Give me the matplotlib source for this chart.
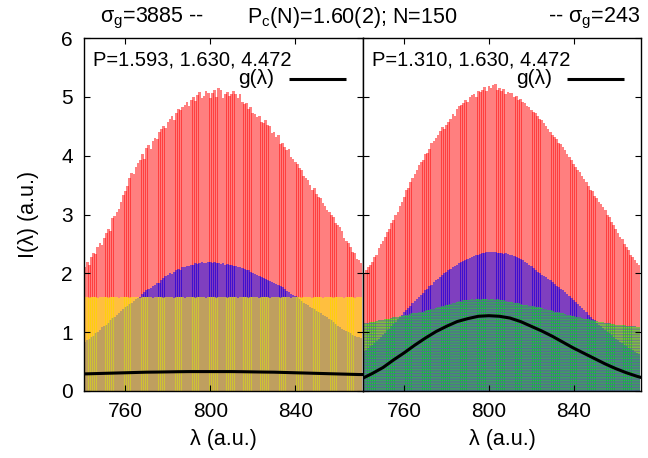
import matplotlib
matplotlib.use("Agg")
import matplotlib.pyplot as plt
import numpy as np

plt.rcParams['font.family'] = ['Liberation Sans', 'DejaVu Sans']
plt.rcParams['mathtext.fontset'] = 'custom'
plt.rcParams['mathtext.rm'] = 'Liberation Sans'
plt.rcParams['mathtext.it'] = 'Liberation Sans:italic'
plt.rcParams['hatch.linewidth'] = 0.9

# wavelength grid (one bar per unit)
lam = list(range(741, 872))

red_left = [2.11, 2.20, 2.15, 2.28, 2.35, 2.33, 2.45, 2.52, 2.49, 2.60,
            2.69, 2.75, 2.72, 2.94, 2.98, 3.05, 3.10, 3.22, 3.33, 3.40,
            3.48, 3.62, 3.70, 3.69, 3.80, 3.88, 3.92, 4.02, 3.95, 4.13,
            4.18, 4.12, 4.25, 4.30, 4.28, 4.41, 4.45, 4.50, 4.47, 4.58,
            4.62, 4.67, 4.60, 4.72, 4.80, 4.77, 4.83, 4.86, 4.92, 4.85,
            4.95, 5.00, 4.93, 5.03, 5.08, 4.98, 5.02, 5.10, 5.06, 4.98,
            5.06, 5.12, 5.00, 5.15, 5.12, 4.98, 5.05, 5.08, 5.02, 5.04,
            5.10, 5.05, 4.98, 5.05, 4.92, 4.88, 4.90, 4.80, 4.83, 4.72,
            4.70, 4.65, 4.68, 4.58, 4.55, 4.60, 4.52, 4.50, 4.38, 4.40,
            4.32, 4.35, 4.20, 4.22, 4.15, 4.10, 4.12, 3.98, 3.95, 3.90,
            3.85, 3.79, 3.75, 3.65, 3.62, 3.58, 3.50, 3.42, 3.45, 3.35,
            3.30, 3.28, 3.20, 3.15, 3.08, 3.05, 3.00, 2.95, 2.85, 2.83,
            2.79, 2.72, 2.60, 2.55, 2.52, 2.45, 2.37, 2.35, 2.25, 2.22,
            2.18]

blue_left = [0.84, 0.86, 0.89, 0.92, 0.94, 0.98, 1.01, 1.04, 1.08, 1.10,
             1.13, 1.16, 1.20, 1.24, 1.26, 1.30, 1.33, 1.36, 1.40, 1.42,
             1.45, 1.48, 1.50, 1.53, 1.56, 1.58, 1.60, 1.65, 1.68, 1.72,
             1.73, 1.75, 1.78, 1.80, 1.83, 1.83, 1.88, 1.92, 1.95, 1.97,
             2.00, 1.99, 2.03, 2.05, 2.08, 2.06, 2.10, 2.11, 2.13, 2.12,
             2.15, 2.14, 2.17, 2.16, 2.18, 2.20, 2.18, 2.17, 2.20, 2.19,
             2.18, 2.20, 2.17, 2.18, 2.16, 2.17, 2.15, 2.16, 2.14, 2.14,
             2.13, 2.12, 2.10, 2.11, 2.09, 2.08, 2.06, 2.05, 2.02, 2.00,
             1.99, 1.98, 1.96, 1.94, 1.92, 1.90, 1.88, 1.87, 1.85, 1.84,
             1.82, 1.80, 1.78, 1.76, 1.73, 1.70, 1.68, 1.65, 1.63, 1.61,
             1.59, 1.56, 1.53, 1.50, 1.48, 1.46, 1.43, 1.41, 1.39, 1.36,
             1.34, 1.32, 1.30, 1.28, 1.26, 1.23, 1.20, 1.17, 1.14, 1.11,
             1.08, 1.06, 1.04, 1.02, 1.00, 0.98, 0.96, 0.94, 0.92, 0.91,
             0.90]

yellow_left = [1.59, 1.60, 1.58, 1.59, 1.60, 1.59, 1.58, 1.59, 1.60, 1.59,
               1.59, 1.58, 1.60, 1.59, 1.59, 1.60, 1.58, 1.59, 1.59, 1.60,
               1.59, 1.58, 1.59, 1.60, 1.59, 1.59, 1.58, 1.60, 1.59, 1.59,
               1.60, 1.59, 1.58, 1.59, 1.60, 1.59, 1.59, 1.58, 1.60, 1.59,
               1.59, 1.60, 1.58, 1.59, 1.59, 1.60, 1.59, 1.58, 1.59, 1.60,
               1.59, 1.59, 1.58, 1.60, 1.59, 1.59, 1.60, 1.58, 1.59, 1.59,
               1.60, 1.59, 1.58, 1.59, 1.60, 1.59, 1.59, 1.58, 1.60, 1.59,
               1.59, 1.60, 1.58, 1.59, 1.59, 1.60, 1.59, 1.58, 1.59, 1.60,
               1.59, 1.59, 1.58, 1.60, 1.59, 1.59, 1.60, 1.58, 1.59, 1.59,
               1.60, 1.59, 1.58, 1.59, 1.60, 1.59, 1.59, 1.58, 1.60, 1.59,
               1.59, 1.60, 1.58, 1.59, 1.59, 1.60, 1.59, 1.58, 1.59, 1.60,
               1.59, 1.59, 1.58, 1.60, 1.59, 1.59, 1.60, 1.58, 1.59, 1.59,
               1.60, 1.59, 1.58, 1.59, 1.60, 1.59, 1.59, 1.58, 1.60, 1.59,
               1.59]

red_right = [2.00, 2.05, 2.10, 2.15, 2.20, 2.27, 2.32, 2.43, 2.50, 2.55,
             2.62, 2.70, 2.76, 2.85, 2.91, 3.00, 3.05, 3.15, 3.22, 3.30,
             3.42, 3.45, 3.55, 3.62, 3.68, 3.75, 3.84, 3.90, 3.93, 4.02,
             4.05, 4.12, 4.21, 4.25, 4.30, 4.35, 4.42, 4.48, 4.45, 4.52,
             4.58, 4.62, 4.70, 4.68, 4.80, 4.84, 4.86, 4.90, 4.95, 4.92,
             5.00, 5.03, 5.05, 5.00, 5.10, 5.08, 5.12, 5.16, 5.10, 5.18,
             5.15, 5.20, 5.22, 5.12, 5.15, 5.10, 5.14, 5.05, 5.08, 5.06,
             5.06, 5.00, 5.02, 4.95, 4.96, 4.92, 4.89, 4.85, 4.82, 4.78,
             4.75, 4.72, 4.67, 4.62, 4.60, 4.55, 4.50, 4.45, 4.40, 4.35,
             4.32, 4.28, 4.22, 4.20, 4.15, 4.10, 4.02, 3.98, 3.92, 3.85,
             3.80, 3.76, 3.72, 3.65, 3.60, 3.55, 3.48, 3.42, 3.40, 3.32,
             3.28, 3.22, 3.18, 3.12, 3.08, 3.00, 2.95, 2.88, 2.82, 2.75,
             2.68, 2.62, 2.58, 2.50, 2.45, 2.40, 2.31, 2.28, 2.22, 2.18,
             2.14]

blue_right = [0.68, 0.70, 0.73, 0.76, 0.79, 0.82, 0.85, 0.88, 0.92, 0.95,
              0.99, 1.03, 1.06, 1.10, 1.14, 1.18, 1.22, 1.26, 1.30, 1.34,
              1.37, 1.41, 1.45, 1.49, 1.53, 1.57, 1.60, 1.64, 1.67, 1.71,
              1.74, 1.78, 1.81, 1.85, 1.88, 1.91, 1.94, 1.97, 2.00, 2.03,
              2.06, 2.08, 2.11, 2.13, 2.15, 2.17, 2.19, 2.21, 2.23, 2.24,
              2.26, 2.27, 2.29, 2.31, 2.32, 2.33, 2.34, 2.35, 2.36, 2.36,
              2.37, 2.37, 2.36, 2.34, 2.35, 2.34, 2.33, 2.34, 2.33, 2.32,
              2.31, 2.29, 2.28, 2.26, 2.24, 2.22, 2.20, 2.17, 2.15, 2.12,
              2.09, 2.06, 2.03, 2.01, 1.98, 1.95, 1.93, 1.90, 1.88, 1.85,
              1.82, 1.79, 1.77, 1.74, 1.72, 1.68, 1.65, 1.62, 1.58, 1.55,
              1.52, 1.48, 1.45, 1.41, 1.38, 1.34, 1.30, 1.26, 1.23, 1.20,
              1.16, 1.13, 1.10, 1.07, 1.04, 1.01, 0.98, 0.95, 0.92, 0.89,
              0.86, 0.83, 0.81, 0.78, 0.76, 0.73, 0.71, 0.69, 0.67, 0.65,
              0.63]

green_right = [1.15, 1.16, 1.16, 1.17, 1.18, 1.18, 1.19, 1.20, 1.20, 1.21,
               1.22, 1.22, 1.23, 1.24, 1.25, 1.25, 1.26, 1.27, 1.28, 1.29,
               1.29, 1.30, 1.31, 1.32, 1.33, 1.33, 1.34, 1.35, 1.35, 1.36,
               1.37, 1.38, 1.39, 1.40, 1.41, 1.42, 1.43, 1.44, 1.45, 1.46,
               1.47, 1.48, 1.49, 1.50, 1.51, 1.53, 1.52, 1.54, 1.55, 1.54,
               1.55, 1.56, 1.55, 1.57, 1.56, 1.55, 1.57, 1.56, 1.57, 1.55,
               1.56, 1.57, 1.55, 1.56, 1.54, 1.55, 1.54, 1.53, 1.52, 1.52,
               1.51, 1.50, 1.50, 1.49, 1.48, 1.47, 1.47, 1.46, 1.45, 1.44,
               1.44, 1.43, 1.42, 1.42, 1.41, 1.40, 1.39, 1.38, 1.37, 1.36,
               1.35, 1.35, 1.34, 1.33, 1.32, 1.31, 1.30, 1.29, 1.28, 1.27,
               1.26, 1.26, 1.25, 1.24, 1.23, 1.22, 1.22, 1.21, 1.20, 1.19,
               1.19, 1.18, 1.17, 1.17, 1.16, 1.16, 1.15, 1.14, 1.14, 1.13,
               1.13, 1.12, 1.12, 1.12, 1.11, 1.11, 1.10, 1.10, 1.10, 1.09,
               1.09]

g_lam = [740, 745, 750, 755, 760, 765, 770, 775, 780, 785, 790, 795, 800, 805,
         810, 815, 820, 825, 830, 835, 840, 845, 850, 855, 860, 865, 870, 872]
g_left = [0.29, 0.295, 0.30, 0.305, 0.31, 0.315, 0.32, 0.322, 0.325, 0.328, 0.33, 0.33,
          0.33, 0.33, 0.33, 0.328, 0.325, 0.322, 0.32, 0.315, 0.31, 0.305, 0.30, 0.295,
          0.29, 0.285, 0.28, 0.28]
g_right = [0.21, 0.30, 0.40, 0.53, 0.65, 0.78, 0.90, 1.01, 1.10, 1.18, 1.23, 1.27,
           1.28, 1.27, 1.24, 1.18, 1.10, 1.02, 0.93, 0.83, 0.73, 0.64, 0.55, 0.46,
           0.38, 0.31, 0.25, 0.23]

panel_text = ["P=1.593, 1.630, 4.472", "P=1.310, 1.630, 4.472"]
xticks = [760, 800, 840]
yticks = [0, 1, 2, 3, 4, 5, 6]

FS = 15.5
FS_P = 14.5
W, H = 648, 458
fig = plt.figure(figsize=(W / 100, H / 100), dpi=100)
ax1 = fig.add_axes([84 / W, 1 - 391 / H, 279 / W, 353 / H])
ax2 = fig.add_axes([363 / W, 1 - 391 / H, 278 / W, 353 / H])

panels = [
    (ax1, [(red_left, '#ff0000', None), (blue_left, '#0000ff', None),
           (yellow_left, '#ffff00', None)], g_left, panel_text[0]),
    (ax2, [(red_right, '#ff0000', None), (blue_right, '#0000ff', None),
           (green_right, '#00ff00', '------')], g_right, panel_text[1]),
]

for ax, series, g, ptxt in panels:
    for vals, col, hatch in series:
        if hatch is None:
            ax.bar(lam, vals, width=1.26, color=col, alpha=0.5, linewidth=0)
        else:
            ax.bar(lam, vals, width=1.26, facecolor=col, edgecolor='#6a3cc8',
                   hatch=hatch, alpha=0.5, linewidth=0)
    ax.plot(g_lam, g, color='black', lw=2.2, zorder=5)
    ax.set_xlim(740.5, 871.9)
    ax.set_ylim(0, 6)
    ax.set_xticks(xticks)
    ax.set_yticks(yticks)
    ax.tick_params(direction='in', top=True, right=True, length=4, width=0.8,
                   labelsize=15, pad=8)
    for sp in ax.spines.values():
        sp.set_linewidth(1.0)
    ax.set_xlabel("λ (a.u.)", fontsize=FS, labelpad=6)
    ax.text(0.032, 0.965, ptxt, transform=ax.transAxes, fontsize=FS_P,
            ha='left', va='top')
    ax.text(0.682, 0.884, "g(λ)", transform=ax.transAxes, fontsize=15,
            ha='right', va='center')
    ax.plot([0.733, 0.94], [0.884, 0.884], transform=ax.transAxes,
            color='black', lw=2.2, solid_capstyle='butt')

ax2.tick_params(labelleft=False)
ax1.set_ylabel("I(λ) (a.u.)", fontsize=FS, labelpad=16)

ty = 1 - 18 / H
fig.text(100 / W, ty, r"σ$_{\mathrm{g}}$=3885 --", fontsize=FS, ha='left', va='center')
fig.text(247 / W, ty, r"P$_{\mathrm{c}}$(N)=1.60(2); N=150", fontsize=FS, ha='left', va='center')
fig.text(640 / W, ty, r"-- σ$_{\mathrm{g}}$=243", fontsize=FS, ha='right', va='center')

fig.savefig("out.png", dpi=100)
